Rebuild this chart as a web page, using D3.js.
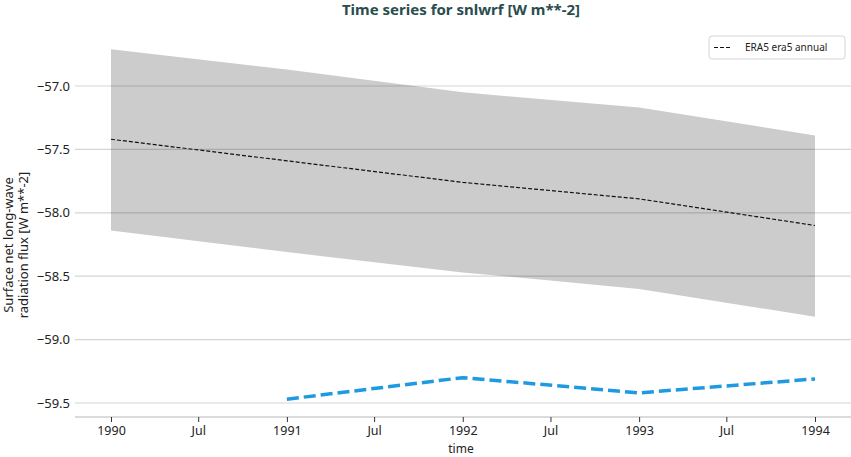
<!DOCTYPE html>
<html>
<head>
<meta charset="utf-8">
<title>Time series for snlwrf</title>
<script src="https://cdn.jsdelivr.net/npm/d3@7"></script>
<style>
  body { margin: 0; background: #fff; }
  text { font-family: "Noto Sans", "Open Sans", sans-serif; }
</style>
</head>
<body>
<svg id="chart" width="851" height="457"></svg>
<script>
// values
var years = ["1990-01-01", "1991-01-01", "1992-01-01", "1993-01-01", "1994-01-01"];
var era5Mean = [-57.42, -57.59, -57.76, -57.89, -58.10];
var era5Upper = [-56.71, -56.87, -57.05, -57.17, -57.39];
var era5Lower = [-58.14, -58.31, -58.47, -58.60, -58.82];
var blueYears = ["1991-01-01", "1992-01-01", "1993-01-01", "1994-01-01"];
var blueValues = [-59.47, -59.30, -59.42, -59.31];
var yTicks = [-57.0, -57.5, -58.0, -58.5, -59.0, -59.5];

var parse = d3.timeParse("%Y-%m-%d");
var svg = d3.select("#chart");

var x = d3.scaleTime()
  .domain([parse("1990-01-01"), parse("1994-01-01")])
  .range([111, 815]);
var y = d3.scaleLinear()
  .domain([-57.0, -59.5])
  .range([86, 403]);

var band = years.map(function (d, i) {
  return { t: parse(d), lo: era5Lower[i], hi: era5Upper[i], m: era5Mean[i] };
});
var blue = blueYears.map(function (d, i) { return { t: parse(d), v: blueValues[i] }; });

// shaded spread
svg.append("path")
  .datum(band)
  .attr("fill", "#cccccc")
  .attr("d", d3.area()
    .x(function (d) { return x(d.t); })
    .y0(function (d) { return y(d.lo); })
    .y1(function (d) { return y(d.hi); }));

// grid lines drawn over the band
svg.append("g")
  .selectAll("line")
  .data(yTicks)
  .enter().append("line")
    .attr("x1", 75).attr("x2", 851)
    .attr("y1", function (d) { return y(d); })
    .attr("y2", function (d) { return y(d); })
    .attr("stroke", "rgba(0,0,0,0.17)")
    .attr("stroke-width", 1.2);

// y tick labels
svg.append("g")
  .selectAll("text")
  .data(yTicks)
  .enter().append("text")
    .attr("x", 70)
    .attr("y", function (d) { return y(d); })
    .attr("dy", "0.35em")
    .attr("text-anchor", "end")
    .attr("font-size", 13)
    .attr("fill", "#222")
    .text(function (d) { return d3.format(".1f")(d).replace("-", "\u2212"); });

// x axis
var xTicks = d3.timeMonth.every(6).range(parse("1990-01-01"), parse("1994-01-02"));
var xAxis = svg.append("g")
  .attr("transform", "translate(0,417)")
  .call(d3.axisBottom(x)
    .tickValues(xTicks)
    .tickSize(5)
    .tickPadding(4)
    .tickFormat(function (d) { return d.getMonth() === 0 ? d3.timeFormat("%Y")(d) : "Jul"; }));
xAxis.select(".domain").remove();
xAxis.insert("line", ":first-child")
  .attr("x1", 75).attr("x2", 851)
  .attr("stroke", "#cfcfcf").attr("stroke-width", 1.5);
xAxis.selectAll(".tick line").attr("stroke", "#333");
xAxis.selectAll(".tick text")
  .attr("font-size", 12.5)
  .attr("fill", "#222")
  .attr("font-family", "Noto Sans, sans-serif");

// mean line
svg.append("path")
  .datum(band)
  .attr("fill", "none")
  .attr("stroke", "#111")
  .attr("stroke-width", 1.2)
  .attr("stroke-dasharray", "4,2")
  .attr("d", d3.line()
    .x(function (d) { return x(d.t); })
    .y(function (d) { return y(d.m); }));

// blue dashed series
svg.append("path")
  .datum(blue)
  .attr("fill", "none")
  .attr("stroke", "#1f9ae0")
  .attr("stroke-width", 3.5)
  .attr("stroke-dasharray", "12,5")
  .attr("d", d3.line()
    .x(function (d) { return x(d.t); })
    .y(function (d) { return y(d.v); }));

// title
svg.append("text")
  .attr("x", 461)
  .attr("y", 15)
  .attr("text-anchor", "middle")
  .attr("font-size", 15)
  .attr("font-weight", "bold")
  .attr("fill", "#2a4d4d")
  .text("Time series for snlwrf [W m**-2]");

// axis titles
svg.append("text")
  .attr("x", 461)
  .attr("y", 449)
  .attr("dy", "0.35em")
  .attr("text-anchor", "middle")
  .attr("font-size", 12)
  .attr("fill", "#222")
  .text("time");

var yl = svg.append("text")
  .attr("transform", "translate(13,245) rotate(-90)")
  .attr("text-anchor", "middle")
  .attr("font-size", 13)
  .attr("fill", "#222");
yl.append("tspan").attr("x", 0).attr("dy", 0).text("Surface net long-wave");
yl.append("tspan").attr("x", 0).attr("dy", 15).text("radiation flux [W m**-2]");

// legend
var lg = svg.append("g").attr("transform", "translate(709,36)");
lg.append("rect")
  .attr("width", 136).attr("height", 23)
  .attr("rx", 3)
  .attr("fill", "#fff")
  .attr("stroke", "#d5d5d5");
lg.append("line")
  .attr("x1", 5).attr("x2", 23)
  .attr("y1", 11.5).attr("y2", 11.5)
  .attr("stroke", "#111")
  .attr("stroke-width", 1.2)
  .attr("stroke-dasharray", "4,2");
lg.append("text")
  .attr("x", 36).attr("y", 11.5)
  .attr("dy", "0.35em")
  .attr("font-size", 10)
  .attr("fill", "#222")
  .text("ERA5 era5 annual");
</script>
</body>
</html>
